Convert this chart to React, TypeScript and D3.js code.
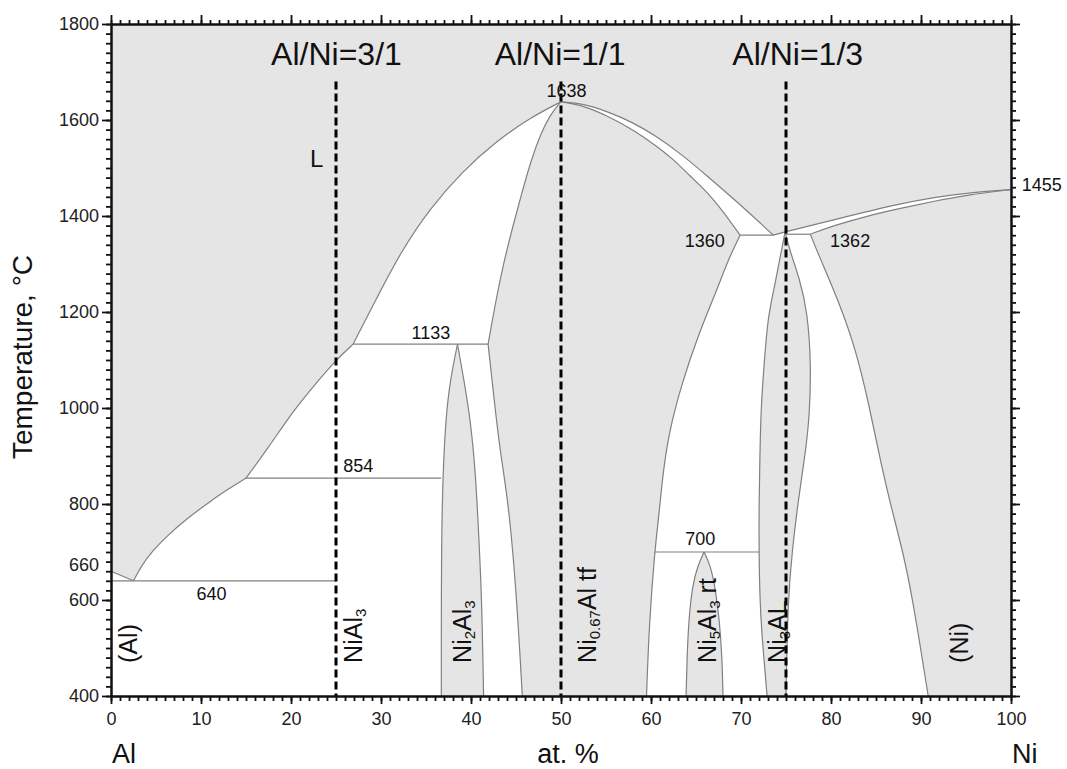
import React, { useEffect, useRef } from 'react';
import * as d3 from 'd3';

type P = [number, number];

const W = 1067;
const H = 769;

// axis ticks
const X_TICKS = [0, 10, 20, 30, 40, 50, 60, 70, 80, 90, 100];
const T_TICKS = [400, 600, 800, 1000, 1200, 1400, 1600, 1800];
const T_EXTRA_LABEL = 660;

// phase boundaries (x = at.% Ni, T in °C)
const LIQ_AL: P[] = [[0, 660], [2.5, 640]];
const LIQ_NIAL3: P[] = [[2.5, 640], [3.4, 672], [4.6, 702], [6.2, 733], [8.3, 768], [11, 805], [13, 831], [15, 854]];
const LIQ_NI2AL3: P[] = [[15, 854], [17.4, 915], [20.2, 993], [22.8, 1052], [24.9, 1098], [26.9, 1133]];
const LIQ_NIAL_L: P[] = [[26.9, 1133], [29.5, 1228], [32.1, 1322], [35.4, 1415], [39.1, 1494], [42.9, 1557], [46.6, 1605], [50, 1638]];
const SOL_NIAL_L: P[] = [[41.9, 1133], [42.8, 1228], [43.7, 1308], [44.6, 1375], [45.6, 1445], [46.7, 1518], [47.8, 1574], [48.9, 1614], [50, 1638]];
const NIAL_LOW_L: P[] = [[41.9, 1133], [42.5, 1030], [43.2, 912], [44.2, 800], [45.1, 600], [45.7, 400]];
const NI2AL3_L: P[] = [[36.7, 400], [36.7, 720], [36.9, 870], [37.2, 980], [37.7, 1060], [38.5, 1133]];
const NI2AL3_R: P[] = [[38.5, 1133], [39.2, 1060], [39.9, 980], [40.5, 870], [40.9, 720], [41.2, 600], [41.4, 400]];
const LIQ_NIAL_R: P[] = [[50, 1638], [52.5, 1634], [55.1, 1618], [58, 1595], [60.6, 1566], [63.5, 1527], [66.2, 1484], [69.9, 1424], [73.6, 1360]];
const SOL_NIAL_R: P[] = [[50, 1638], [52.5, 1630], [55.1, 1609], [58, 1580], [60.6, 1546], [62.5, 1518], [64.3, 1484], [66.3, 1449], [68.0, 1410], [69.9, 1360]];
const PERITECTIC_LINK: P[] = [[73.6, 1360], [74.9, 1367]];
const NIAL_SOLVUS_R: P[] = [[69.9, 1360], [68.6, 1310], [67.2, 1240], [65.3, 1155], [63.4, 1050], [62.0, 950], [61.3, 860], [60.9, 780], [60.4, 700], [59.8, 550], [59.5, 400]];
const NI3AL_L: P[] = [[74.9, 1367], [74.5, 1329], [73.8, 1260], [73.0, 1190], [72.7, 1121], [72.4, 1051], [72.2, 982], [72.1, 900], [72.0, 800], [72.0, 700], [72.1, 600], [72.3, 530], [72.9, 400]];
const NI3AL_R: P[] = [[74.9, 1367], [75.4, 1329], [76.5, 1270], [77.4, 1200], [77.8, 1086], [77.6, 982], [77.2, 912], [76.3, 800], [75.7, 704], [75.2, 600], [75.0, 400]];
const LIQ_NI: P[] = [[74.9, 1367], [80.3, 1392], [87.7, 1426], [91.5, 1439], [95.1, 1448], [100, 1455]];
const SOL_NI: P[] = [[77.7, 1362], [80.3, 1380], [84, 1400], [87.7, 1416], [91.5, 1431], [95.1, 1444], [100, 1455]];
const NI_SOLVUS: P[] = [[77.7, 1362], [78.6, 1320], [80.8, 1225], [82.8, 1120], [84.3, 1000], [85.6, 880], [86.6, 800], [88.0, 700], [89.1, 600], [90.8, 400]];
const NI5AL3_L: P[] = [[63.9, 400], [64.0, 480], [64.2, 560], [64.6, 630], [65.2, 672], [65.9, 700]];
const NI5AL3_R: P[] = [[65.9, 700], [66.6, 672], [67.1, 630], [67.6, 560], [67.9, 480], [68.0, 400]];

// invariant horizontals
const INV_T = [640, 854, 1133, 1360, 1362, 700];
const INV_X0 = [0, 15, 26.9, 69.9, 74.9, 60.4];
const INV_X1 = [25, 36.7, 41.9, 73.6, 77.7, 72.0];

// invariant labels
const TEMP_LABELS = ['1638', '1360', '1362', '1455', '1133', '854', '640', '700'];
const TEMP_LABEL_X = [50.6, 68.2, 79.9, 101.2, 33.4, 25.8, 9.5, 63.8];
const TEMP_LABEL_T = [1647, 1335, 1335, 1453, 1143, 867, 600, 715];
const TEMP_LABEL_ANCHOR = ['middle', 'end', 'start', 'start', 'start', 'start', 'start', 'start'];

// ratio lines
const RATIO_X = [25, 50, 75];
const RATIO_LABELS = ['Al/Ni=3/1', 'Al/Ni=1/1', 'Al/Ni=1/3'];
const RATIO_LABEL_X = [25.05, 49.9, 76.3];
const RATIO_TOP = 1680;

// phase names (rotated)
const PHASES: { main: string; sub?: string; rest?: string; sub2?: string; tail?: string; x: number }[] = [
  { main: '(Al)', x: 2.9 },
  { main: 'NiAl', sub: '3', x: 27.9 },
  { main: 'Ni', sub: '2', rest: 'Al', sub2: '3', x: 40.0 },
  { main: 'Ni', sub: '0.67', rest: 'Al tf', x: 53.9 },
  { main: 'Ni', sub: '5', rest: 'Al', sub2: '3', tail: ' rt', x: 67.2 },
  { main: 'Ni', sub: '3', rest: 'AL', x: 75.0 },
  { main: '(Ni)', x: 95.2 },
];
const PHASE_T = 469;

const FONT = '"Liberation Sans", Arial, Helvetica, sans-serif';
const GRAY = '#e5e5e5';
const LINE = '#808080';

const x = d3.scaleLinear().domain([0, 100]).range([111, 1011]);
const y = d3.scaleLinear().domain([400, 1800]).range([696, 24]);

const line = d3
  .line<P>()
  .x((d) => x(d[0]))
  .y((d) => y(d[1]))
  .curve(d3.curveBasis);

const rev = (a: P[]) => a.slice().reverse();

function poly(segs: P[][]): string {
  return (
    segs
      .map((s, i) => {
        const p = line(s) as string;
        return i === 0 ? p : 'L' + p.slice(1);
      })
      .join('') + 'Z'
  );
}

const WHITE_A = poly([
  [[0, 400], [0, 660]],
  LIQ_AL,
  LIQ_NIAL3,
  LIQ_NI2AL3,
  LIQ_NIAL_L,
  rev(SOL_NIAL_L),
  NIAL_LOW_L,
]);
const GRAY_NI2AL3 = poly([NI2AL3_L, NI2AL3_R]);
const WHITE_B = poly([
  LIQ_NIAL_R,
  PERITECTIC_LINK,
  NI3AL_L,
  [[72.9, 400], [59.5, 400]],
  rev(NIAL_SOLVUS_R),
  rev(SOL_NIAL_R),
]);
const GRAY_NI5AL3 = poly([NI5AL3_L, NI5AL3_R]);
const WHITE_C = poly([LIQ_NI, rev(SOL_NI), NI_SOLVUS, [[90.8, 400], [75.0, 400]], rev(NI3AL_R)]);

const CURVES: P[][] = [
  LIQ_AL, LIQ_NIAL3, LIQ_NI2AL3, LIQ_NIAL_L, SOL_NIAL_L, NIAL_LOW_L, NI2AL3_L, NI2AL3_R,
  LIQ_NIAL_R, SOL_NIAL_R, PERITECTIC_LINK, NIAL_SOLVUS_R, NI3AL_L, NI3AL_R, LIQ_NI, SOL_NI,
  NI_SOLVUS, NI5AL3_L, NI5AL3_R,
];

export default function App() {
  const axRef = useRef<SVGGElement>(null);

  useEffect(() => {
    const g = d3.select(axRef.current);
    g.selectAll('*').remove();
    const minorT = d3.range(400, 1801, 20);
    const minorX = d3.range(0, 101, 1);
    const style = (sel: d3.Selection<SVGGElement, unknown, null, undefined>) => {
      sel.select('.domain').attr('stroke', '#111').attr('stroke-width', 2);
      sel.selectAll('.tick line').attr('stroke', '#111').attr('stroke-width', 1.8);
      sel.selectAll('.tick text').attr('fill', '#222').attr('font-size', 18).attr('font-family', FONT);
    };
    const add = (axis: d3.Axis<d3.NumberValue>, tr: string) => {
      const a = g.append('g').attr('transform', tr).call(axis as any);
      style(a as any);
    };
    // left
    add(d3.axisLeft(y).tickValues(minorT).tickSize(5).tickSizeOuter(0).tickFormat(() => ''), `translate(${x(0)},0)`);
    add(d3.axisLeft(y).tickValues(T_TICKS).tickSize(9).tickSizeOuter(0).tickPadding(3).tickFormat(d3.format('d')), `translate(${x(0)},0)`);
    // right
    add(d3.axisRight(y).tickValues(minorT).tickSize(5).tickSizeOuter(0).tickFormat(() => ''), `translate(${x(100)},0)`);
    add(d3.axisRight(y).tickValues(T_TICKS).tickSize(9).tickSizeOuter(0).tickFormat(() => ''), `translate(${x(100)},0)`);
    // bottom
    add(d3.axisBottom(x).tickValues(minorX).tickSize(5).tickSizeOuter(0).tickFormat(() => ''), `translate(0,${y(400)})`);
    add(d3.axisBottom(x).tickValues(X_TICKS).tickSize(8).tickSizeOuter(0).tickPadding(8).tickFormat(d3.format('d')), `translate(0,${y(400)})`);
    // top
    add(d3.axisTop(x).tickValues(minorX).tickSize(4).tickSizeOuter(0).tickFormat(() => ''), `translate(0,${y(1800)})`);
    add(d3.axisTop(x).tickValues(X_TICKS).tickSize(9).tickSizeOuter(0).tickFormat(() => ''), `translate(0,${y(1800)})`);
  }, []);

  return (
    <svg
      width={W}
      height={H}
      viewBox={`0 0 ${W} ${H}`}
      style={{ position: 'absolute', left: 0, top: 0, display: 'block', background: '#fff' }}
      fontFamily={FONT}
    >
      <rect x={x(0)} y={y(1800)} width={x(100) - x(0)} height={y(400) - y(1800)} fill={GRAY} />
      <path d={WHITE_A} fill="#fff" />
      <path d={WHITE_B} fill="#fff" />
      <path d={WHITE_C} fill="#fff" />
      <path d={GRAY_NI2AL3} fill={GRAY} />
      <path d={GRAY_NI5AL3} fill={GRAY} />
      {CURVES.map((c, i) => (
        <path key={i} d={line(c) as string} fill="none" stroke={LINE} strokeWidth={1.2} />
      ))}
      {INV_T.map((t, i) => (
        <line key={i} x1={x(INV_X0[i])} x2={x(INV_X1[i])} y1={y(t)} y2={y(t)} stroke={LINE} strokeWidth={1.2} />
      ))}
      {RATIO_X.map((r, i) => (
        <line key={i} x1={x(r)} x2={x(r)} y1={y(RATIO_TOP)} y2={y(400)} stroke="#000" strokeWidth={3} strokeDasharray="8,4" />
      ))}
      {RATIO_LABELS.map((s, i) => (
        <text key={i} x={x(RATIO_LABEL_X[i])} y={65} textAnchor="middle" fontSize={32} fill="#111">
          {s}
        </text>
      ))}
      {TEMP_LABELS.map((s, i) => (
        <text
          key={i}
          x={x(TEMP_LABEL_X[i])}
          y={y(TEMP_LABEL_T[i])}
          textAnchor={TEMP_LABEL_ANCHOR[i] as any}
          fontSize={18}
          fill="#111"
        >
          {s}
        </text>
      ))}
      <text x={x(22.1)} y={y(1503)} fontSize={24} fill="#111">L</text>
      {PHASES.map((p, i) => (
        <text
          key={i}
          transform={`translate(${x(p.x)},${y(PHASE_T)}) rotate(-90)`}
          fontSize={25}
          fill="#111"
        >
          <tspan>{p.main}</tspan>
          {p.sub && (
            <tspan fontSize={15} dy={4}>
              {p.sub}
            </tspan>
          )}
          {p.rest && <tspan dy={-4}>{p.rest}</tspan>}
          {p.sub2 && (
            <tspan fontSize={15} dy={4}>
              {p.sub2}
            </tspan>
          )}
          {p.tail && <tspan dy={-4}>{p.tail}</tspan>}
        </text>
      ))}
      <g ref={axRef} />
      <text x={x(0) - 12} y={y(T_EXTRA_LABEL)} textAnchor="end" fontSize={18} fill="#222">
        {T_EXTRA_LABEL}
      </text>
      <text transform={`translate(32,357) rotate(-90)`} textAnchor="middle" fontSize={28} fill="#111">
        Temperature, °C
      </text>
      <text x={112} y={763} fontSize={27} fill="#111">Al</text>
      <text x={568} y={763} textAnchor="middle" fontSize={27} fill="#111">at. %</text>
      <text x={1012} y={763} fontSize={27} fill="#111">Ni</text>
    </svg>
  );
}
